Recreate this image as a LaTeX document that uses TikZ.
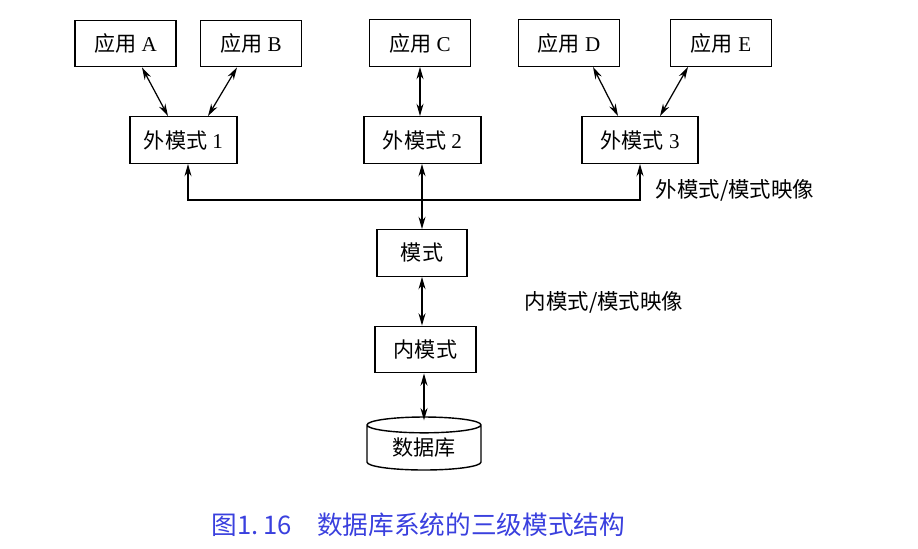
\documentclass[tikz,border=0pt]{standalone}
\usepackage{fontspec}
\setmainfont{Liberation Serif}
\newfontfamily\cjk{Noto Sans CJK SC}
\usetikzlibrary{shapes.geometric, arrows.meta}
\definecolor{capblue}{RGB}{58,64,222}

\begin{document}
\begin{tikzpicture}[x=0.02cm, y=-0.02cm, font=\fontsize{12}{14}\selectfont,
  box/.style={draw, line width=0.8pt, inner sep=0pt, minimum width=2.02cm, minimum height=0.93cm},
  extbox/.style={box, minimum width=2.2cm},
  link/.style={{Stealth[length=7pt,width=4pt]}-{Stealth[length=7pt,width=4pt]}, line width=0.7pt},
  uplink/.style={-{Stealth[length=7pt,width=4pt]}, line width=0.7pt},
  maplabel/.style={font=\cjk\fontsize{12.2}{14}\selectfont}]
\useasboundingbox (0,0) rectangle (918,548);
\node[box] (appA) at (125.5,43.5) {{\cjk 应用} A};
\node[box] (appB) at (251,43.5) {{\cjk 应用} B};
\node[box] (appC) at (420,43) {{\cjk 应用} C};
\node[box] (appD) at (569,43) {{\cjk 应用} D};
\node[box] (appE) at (721,43) {{\cjk 应用} E};
\node[extbox, minimum width=2.14cm] (ext1) at (183.5,140) {{\cjk 外模式} 1};
\node[extbox, minimum width=2.34cm] (ext2) at (422.5,140) {{\cjk 外模式} 2};
\node[extbox, minimum width=2.32cm] (ext3) at (640,140) {{\cjk 外模式} 3};
\node[box, minimum width=1.8cm] (schema) at (422,253) {\cjk 模式};
\node[box] (inner) at (425.5,349.5) {\cjk 内模式};
\node[draw, line width=0.8pt, cylinder, shape border rotate=90, aspect=0.25, minimum width=2.28cm, minimum height=1.06cm, inner sep=0pt, anchor=shape center] (db) at (424,443.5) {\cjk 数据库};
\node[maplabel] (extmap) at (735,190) {外模式/模式映像};
\node[maplabel] (innermap) at (604,302) {内模式/模式映像};
\node[font=\cjk\fontsize{14.6}{17}\selectfont, text=capblue] (caption) at (418.5,525) {图1.\,16\quad 数据库系统的三级模式结构};
\coordinate (bus) at (421,200);
\draw[link] ([xshift=0.33cm]appA.south) -- ([xshift=-0.31cm]ext1.north);
\draw[link] ([xshift=-0.28cm]appB.south) -- ([xshift=0.49cm]ext1.north);
\draw[link] (appC.south) -- (appC.south |- ext2.north);
\draw[link] ([xshift=0.48cm]appD.south) -- ([xshift=-0.44cm]ext3.north);
\draw[link] ([xshift=-0.66cm]appE.south) -- ([xshift=0.4cm]ext3.north);
\draw[uplink] (bus) -| ([xshift=0.09cm]ext1.south);
\draw[uplink] (bus) -| (ext3.south);
\draw[link] (schema.north |- ext2.south) -- (schema.north);
\draw[link] (schema.south) -- (schema.south |- inner.north);
\draw[link] (inner.south -| db.north) -- ([yshift=-0.08cm]db.north);
\end{tikzpicture}
\end{document}
